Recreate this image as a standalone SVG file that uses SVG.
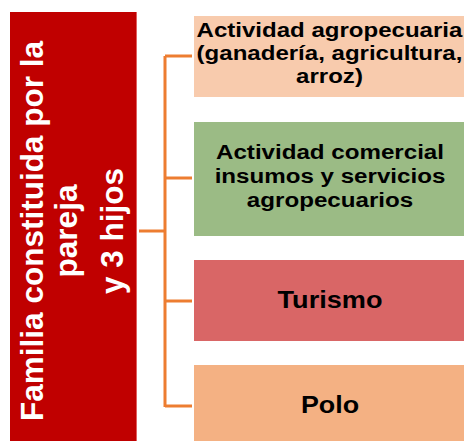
<svg xmlns="http://www.w3.org/2000/svg" width="464" height="441" viewBox="0 0 464 441">
  <style>
    .t { font-family: "Liberation Sans", Arial, sans-serif; font-weight: bold; text-anchor: middle; fill: #000000; }
    .s { font-size: 21px; }
    .b { font-size: 24px; }
    .v { font-family: "Liberation Sans", Arial, sans-serif; font-weight: bold; font-size: 31.5px; text-anchor: middle; fill: #FFFFFF; }
    .c { stroke: #ED7D31; stroke-width: 3; fill: none; }
  </style>
  <rect width="464" height="441" fill="#FFFFFF"/>
  <g id="familia">
    <rect x="10" y="12" width="127" height="440" fill="#C00000"/>
    <line x1="136.5" y1="12" x2="136.5" y2="441" stroke="#E06060" stroke-width="1"/>
    <text class="v" transform="translate(43.3,231) rotate(-90)">Familia constituida por la</text>
    <text class="v" transform="translate(77,231) rotate(-90)">pareja</text>
    <text class="v" transform="translate(123,231) rotate(-90)">y 3 hijos</text>
  </g>
  <g id="connectors">
    <line class="c" x1="139" y1="231" x2="165" y2="231"/>
    <line class="c" x1="165" y1="56" x2="165" y2="407"/>
    <line class="c" x1="165" y1="56" x2="192" y2="56"/>
    <line class="c" x1="165" y1="178" x2="192" y2="178"/>
    <line class="c" x1="165" y1="301" x2="192" y2="301"/>
    <line class="c" x1="165" y1="406" x2="192" y2="406"/>
  </g>
  <g id="agropecuaria">
    <rect x="194" y="16" width="272" height="81" fill="#F8CBAD"/>
    <g transform="translate(329.5,0) scale(1.145,1)">
      <text class="t s" x="0" y="37.5">Actividad agropecuaria</text>
      <text class="t s" x="0" y="60.5">(ganadería, agricultura,</text>
      <text class="t s" x="0" y="83.5">arroz)</text>
    </g>
  </g>
  <g id="comercial">
    <rect x="194" y="122" width="272" height="114" fill="#9BBB85"/>
    <g transform="translate(330,0) scale(1.15,1)">
      <text class="t s" x="0" y="159.3">Actividad comercial</text>
      <text class="t s" x="0" y="183.3">insumos y servicios</text>
      <text class="t s" x="0" y="207.3">agropecuarios</text>
    </g>
  </g>
  <g id="turismo">
    <rect x="194" y="260" width="272" height="81" fill="#D96666"/>
    <g transform="translate(330,0) scale(1.13,1)">
      <text class="t b" x="0" y="308.3">Turismo</text>
    </g>
  </g>
  <g id="polo">
    <rect x="194" y="365" width="272" height="80" fill="#F4B183"/>
    <g transform="translate(330,0) scale(1.12,1)">
      <text class="t b" x="0" y="413.3">Polo</text>
    </g>
  </g>
</svg>
